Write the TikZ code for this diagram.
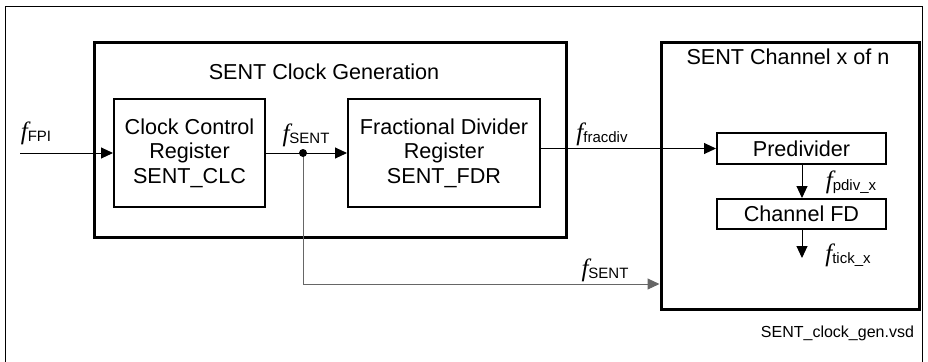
\documentclass[tikz,border=0pt]{standalone}
\usepackage{fontspec}
\setmainfont{Liberation Sans}
\newfontfamily\fserif{Liberation Serif}
\usetikzlibrary{arrows.meta,positioning}

\newcommand{\fsig}[1]{{\fserif\itshape\fontsize{12.5}{13}\selectfont f}\raisebox{-1pt}{\fontsize{7.5}{8}\selectfont #1}}

\tikzset{
    blockbig/.style={draw, rectangle, line width=1.5pt, inner sep=0pt},
    blockreg/.style={draw, rectangle, line width=1pt, align=center, inner sep=0pt},
    sig/.style={line width=0.5pt, -{Triangle[length=6pt,width=5.5pt]}},
}

\begin{document}
\begin{tikzpicture}[x=0.5pt, y=-0.5pt, font=\fontsize{10.8}{12.2}\selectfont]
    \useasboundingbox (0,0) rectangle (928,361);
    \draw[line width=0.5pt] (5,6) rectangle (922,370);

    % clock generation
    \node[blockbig, minimum width=236pt, minimum height=97.5pt] (gen) at (330,139.5) {};
    \node (gentitle) at (324,72) {SENT Clock Generation};
    \node[blockreg, minimum width=75.5pt, minimum height=54pt] (clc) at (189.5,153) {Clock Control\\Register\\SENT\_CLC};
    \node[blockreg, minimum width=96pt, minimum height=54pt] (fdr) at (444,153) {Fractional Divider\\Register\\SENT\_FDR};

    % channel
    \node[blockbig, minimum width=129pt, minimum height=133.5pt] (chan) at (790,175.5) {};
    \node (chantitle) at (788,57) {SENT Channel x of n};
    \node[blockreg, minimum width=84.5pt, minimum height=15.5pt] (prediv) at (801.5,148.5) {Predivider};
    \node[blockreg, minimum width=84.5pt, minimum height=15pt, below=16.5pt of prediv] (chfd) {Channel FD};

    % signals
    \coordinate (fpiin) at (20,153);
    \coordinate (split) at (303,153);
    \coordinate (bend) at (303,284);
    \coordinate (tick) at (802,258);
    \draw[sig] (fpiin) -- (clc.west);
    \draw[sig] (clc.east) -- (fdr.west);
    \draw[sig] (fdr.east |- prediv.west) -- (prediv.west);
    \draw[sig, black!60] (split) -- (bend) -- (bend -| chan.west);
    \fill (split) circle (2pt);
    \draw[sig] (prediv.south -| tick) -- (chfd.north -| tick);
    \draw[sig] (chfd.south -| tick) -- (tick);

    % labels
    \node (lfpi) at (36,133) {\fsig{FPI}};
    \node (lsent) at (306,135) {\fsig{SENT}};
    \node (lfrac) at (602,134) {\fsig{fracdiv}};
    \node (lsent2) at (605,270) {\fsig{SENT}};
    \node (lpdiv) at (851,182) {\fsig{pdiv\_x}};
    \node (ltick) at (848,255) {\fsig{tick\_x}};
    \node[anchor=east, font=\fontsize{8}{9}\selectfont] (vsd) at (921,333) {SENT\_clock\_gen.vsd};
\end{tikzpicture}
\end{document}
